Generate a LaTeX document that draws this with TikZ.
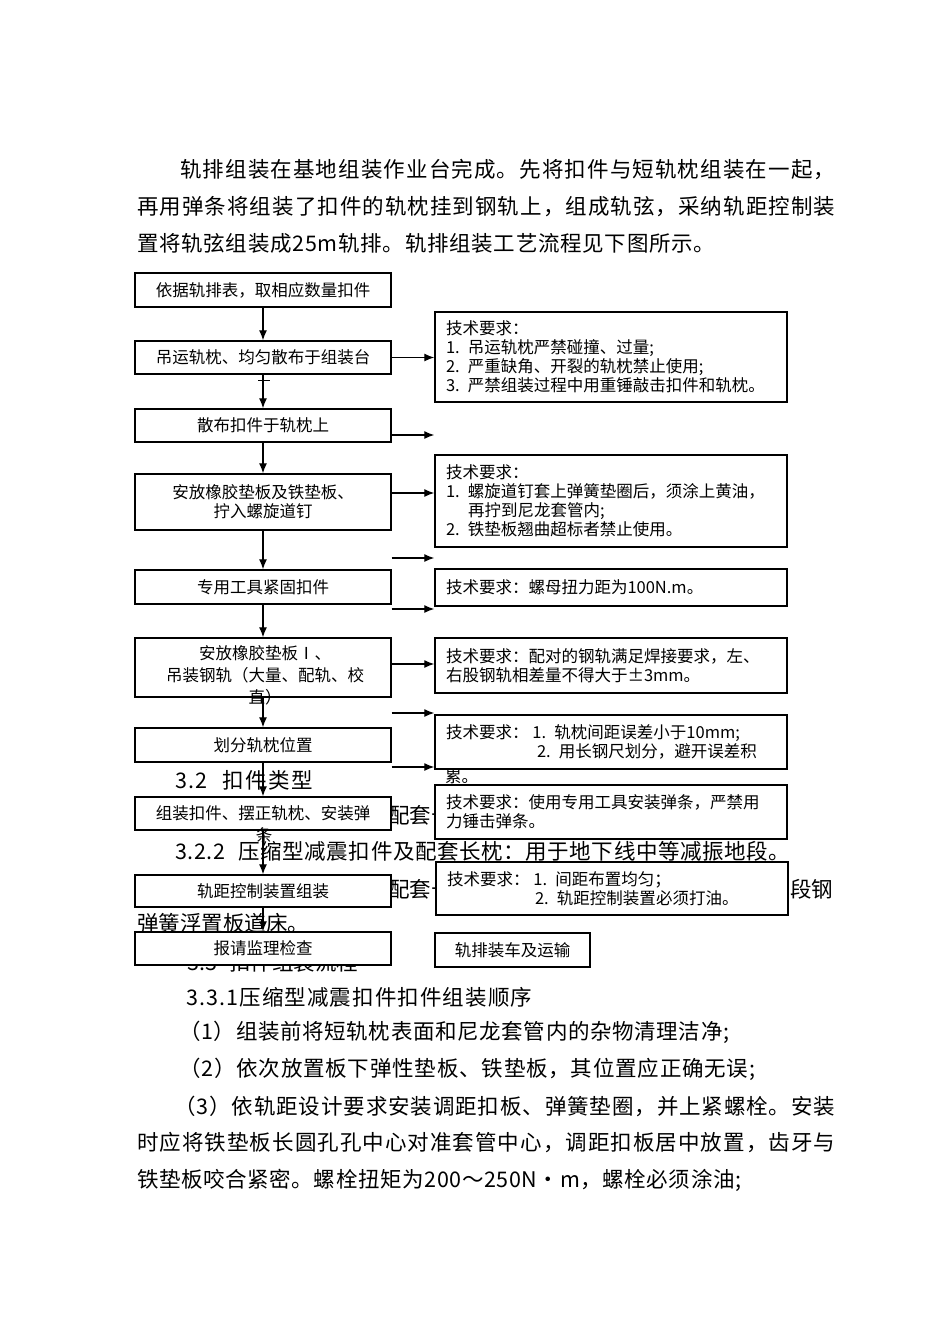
\documentclass[tikz,border=0pt]{standalone}
\usepackage{fontspec}
\setmainfont{Noto Sans CJK SC}
\usetikzlibrary{arrows.meta}
\newcommand\bdf{\fontsize{21.5}{26}\selectfont}
\newcommand\fsm{\fontsize{16.5}{19}\selectfont}
\def\sprA#1{#1\sprB}
\def\sprB#1{\ifx#1\relax\else\hskip 0pt plus 1fil\relax #1\expandafter\sprB\fi}
\newcommand\spl[2]{\makebox[#1][s]{\sprA#2\relax}}
\newcommand\gapw{\hspace{12pt}}
\begin{document}
\begin{tikzpicture}[x=1pt,y=-1pt,
  body/.style={inner sep=0pt, anchor=west, font=\bdf},
  flow/.style={draw, line width=1.4pt, fill=white, minimum width=256pt, inner sep=0pt, font=\fsm, align=center},
  req/.style={draw, line width=1.4pt, fill=white, text width=330pt, inner xsep=11pt, inner ysep=0pt, align=left, font=\fsm},
  lbl/.style={inner sep=0pt, font=\fsm, align=center},
  arr/.style={line width=1.3pt, -{Latex[length=10pt,width=8pt]}}]
\useasboundingbox (0,0) rectangle (950,1344);
\fill[white] (0,0) rectangle (950,1344);

% body text above
\node[body] (p1) at (180,170) {\spl{655pt}{轨排组装在基地组装作业台完成。先将扣件与短轨枕组装在一起，}};
\node[body] (p2) at (137,207) {\spl{698pt}{再用弹条将组装了扣件的轨枕挂到钢轨上，组成轨弦，采纳轨距控制装}};
\node[body] (p3) at (137,243) {\spl{578pt}{置将轨弦组装成25m轨排。轨排组装工艺流程见下图所示。}};

% body text partly hidden behind the flowchart
\node[body] (h1) at (175,780) {\spl{138pt}{3.2\gapw 扣件类型}};
\node[body] (h2) at (388,815) {配套长};
\node[body] (h3) at (175,851) {\spl{615pt}{3.2.2\gapw 压缩型减震扣件及配套长枕：用于地下线中等减振地段。}};
\node[body] (h4) at (388,889) {配套长};
\node[body] (h5) at (790,889) {段钢};
\node[body] (h6) at (137,923) {弹簧浮置板道床。};
\node[body] (h7) at (187,962) {\spl{170pt}{3.3\gapw 扣件组装流程}};

% left column
\node[flow, minimum height=34pt] (b1) at (263,290) {依据轨排表，取相应数量扣件};
\node[flow, minimum height=33pt] (b2) at (263,357.5) {吊运轨枕、均匀散布于组装台};
\node[flow, minimum height=33pt] (b3) at (263,425.5) {散布扣件于轨枕上};
\node[flow, minimum height=56pt] (b4) at (263,502) {安放橡胶垫板及铁垫板、\\拧入螺旋道钉};
\node[flow, minimum height=34pt] (b5) at (263,587) {专用工具紧固扣件};
\node[flow, minimum height=59pt] (b6) at (263,667.5) {};
\node[lbl] (t6) at (265,675) {安放橡胶垫板Ⅰ、\\[3pt]吊装钢轨（大量、配轨、校\\[3pt]直）};
\node[flow, minimum height=34pt] (b7) at (263,745) {划分轨枕位置};
\node[flow, minimum height=33pt] (b8) at (263,813.5) {组装扣件、摆正轨枕、安装弹};
\node[lbl] (t8) at (264,835) {条};
\node[flow, minimum height=32pt] (b9) at (263,891) {轨距控制装置组装};
\node[flow, minimum height=33pt] (b10) at (263,948.5) {报请监理检查};

% right column
\node[req, minimum height=90pt] (r1) at (611,357) {技术要求：\\1. 吊运轨枕严禁碰撞、过量;\\2. 严重缺角、开裂的轨枕禁止使用;\\3. 严禁组装过程中用重锤敲击扣件和轨枕。};
\node[req, minimum height=92pt] (r2) at (611,501) {技术要求：\\1. 螺旋道钉套上弹簧垫圈后，须涂上黄油，\\\hspace*{22pt}再拧到尼龙套管内;\\2. 铁垫板翘曲超标者禁止使用。};
\node[req, minimum height=37pt] (r3) at (611,587.5) {技术要求：螺母扭力距为100N.m。};
\node[req, minimum height=55pt] (r4) at (611,665.5) {技术要求：配对的钢轨满足焊接要求，左、\\右股钢轨相差量不得大于±3mm。};
\node[req, minimum height=54pt] (r5) at (611,742) {技术要求：\hspace{4pt}1. 轨枕间距误差小于10mm;\\\hspace*{91pt}2. 用长钢尺划分，避开误差积};
\node[lbl, anchor=west] (t5) at (445,777) {累。};
\node[req, minimum height=54pt] (r6) at (611,812) {技术要求：使用专用工具安装弹条，严禁用\\力锤击弹条。};
\node[req, minimum height=53pt] (r7) at (612,888.5) {技术要求：\hspace{4pt}1. 间距布置均匀；\\\hspace*{88pt}2. 轨距控制装置必须打油。};
\node[draw, line width=1.4pt, fill=white, minimum width=155pt, minimum height=34pt, inner sep=0pt, font=\fsm] (r8) at (512.5,950) {轨排装车及运输};

% small stray mark under box 2
\draw[line width=1pt] (258,380) -- (270,380);

% vertical arrows
\draw[arr] (b1) -- (b2);
\draw[arr] (b2) -- (b3);
\draw[arr] (b3) -- (b4);
\draw[arr] (b4) -- (b5);
\draw[arr] (b5) -- (b6);
\draw[arr] (b6) -- (b7);
\draw[arr] (b7) -- (b8);
\draw[arr] (b8) -- (b9);
\draw[arr] (b9) -- (b10);

% horizontal arrows
\coordinate (y1) at (0,357.5);
\coordinate (y2) at (0,435);
\coordinate (y3) at (0,493);
\coordinate (y4) at (0,558);
\coordinate (y5) at (0,609);
\coordinate (y6) at (0,664);
\coordinate (y7) at (0,713);
\coordinate (y8) at (0,767);
\draw[arr] (b2.east |- y1) -- (r1.west |- y1);
\draw[arr] (b3.east |- y2) -- (r1.west |- y2);
\draw[arr] (b4.east |- y3) -- (r2.west |- y3);
\draw[arr] (b4.east |- y4) -- (r2.west |- y4);
\draw[arr] (b5.east |- y5) -- (r3.west |- y5);
\draw[arr] (b6.east |- y6) -- (r4.west |- y6);
\draw[arr] (b6.east |- y7) -- (r5.west |- y7);
\draw[arr] (b7.east |- y8) -- (r5.west |- y8);

% body text below
\node[body] (q1) at (186,997) {\spl{346pt}{3.3.1压缩型减震扣件扣件组装顺序}};
\node[body] (q2) at (179,1032) {\spl{550pt}{（1）组装前将短轨枕表面和尼龙套管内的杂物清理洁净;}};
\node[body] (q3) at (179,1069) {\spl{576pt}{（2）依次放置板下弹性垫板、铁垫板，其位置应正确无误;}};
\node[body] (q4) at (174,1106) {\spl{661pt}{（3）依轨距设计要求安装调距扣板、弹簧垫圈，并上紧螺栓。安装}};
\node[body] (q5) at (137,1143) {\spl{698pt}{时应将铁垫板长圆孔孔中心对准套管中心，调距扣板居中放置，齿牙与}};
\node[body] (q6) at (137,1180) {\spl{604pt}{铁垫板咬合紧密。螺栓扭矩为200～250N·m，螺栓必须涂油;}};
\end{tikzpicture}
\end{document}
